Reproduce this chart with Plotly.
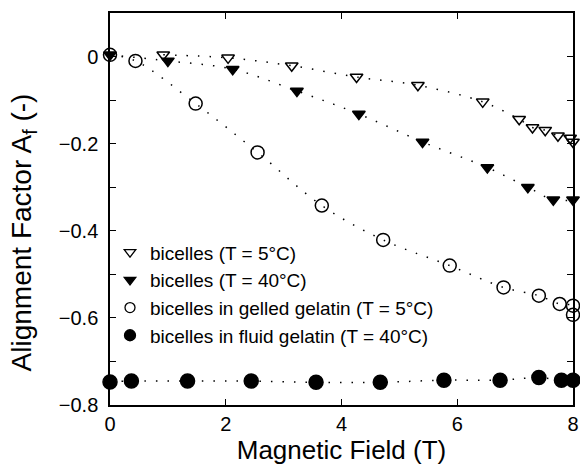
import plotly.graph_objects as go

# ---- data ----
tri_open_x = [0.92, 2.04, 3.14, 4.26, 5.32, 6.44, 7.07, 7.30, 7.52, 7.74, 7.95, 8.00]
tri_open_y = [0.004, -0.003, -0.021, -0.047, -0.066, -0.104, -0.144, -0.163, -0.169, -0.182, -0.187, -0.196]

tri_fill_x = [0.0, 1.00, 2.12, 3.23, 4.30, 5.40, 6.52, 7.22, 7.66, 8.00]
tri_fill_y = [0.004, -0.010, -0.029, -0.079, -0.132, -0.196, -0.255, -0.300, -0.329, -0.329]

circ_open_x = [0.0, 0.44, 1.48, 2.55, 3.66, 4.72, 5.87, 6.80, 7.41, 7.77, 8.00, 8.00]
circ_open_y = [0.004, -0.010, -0.108, -0.220, -0.342, -0.421, -0.480, -0.530, -0.549, -0.568, -0.572, -0.593]

circ_fill_x = [0.0, 0.37, 1.34, 2.44, 3.56, 4.67, 5.77, 6.74, 7.41, 7.80, 8.00]
circ_fill_y = [-0.747, -0.745, -0.745, -0.745, -0.748, -0.748, -0.743, -0.743, -0.737, -0.743, -0.743]

series_names = [
    "bicelles (T = 5°C)",
    "bicelles (T = 40°C)",
    "bicelles in gelled gelatin (T = 5°C)",
    "bicelles in fluid gelatin (T = 40°C)",
]

x_ticks = [0, 2, 4, 6, 8]
y_ticks = [0, -0.2, -0.4, -0.6, -0.8]
y_tick_labels = ["0", "\u22120.2", "\u22120.4", "\u22120.6", "\u22120.8"]

x_title = "Magnetic Field (T)"
y_title = "Alignment Factor A<sub>f</sub> (-)"

FONT = "Arial, 'Liberation Sans', Helvetica, sans-serif"

fig = go.Figure()

series = [
    (tri_open_x, tri_open_y, "triangle-down-open", 11, 10),
    (tri_fill_x, tri_fill_y, "triangle-down", 11, 10),
    (circ_open_x, circ_open_y, "circle-open", 13, 10),
    (circ_fill_x, circ_fill_y, "circle", 14, 11),
]

for (xs, ys, sym, size, lsize), name in zip(series, series_names):
    # dotted guide line through the points
    fig.add_trace(go.Scatter(
        x=xs, y=ys, mode="lines", showlegend=False, hoverinfo="skip",
        line=dict(color="black", width=1.5, dash="1.5px,10px", shape="spline", smoothing=1.0),
        cliponaxis=False,
    ))
    # markers
    fig.add_trace(go.Scatter(
        x=xs, y=ys, mode="markers", showlegend=False, name=name,
        marker=dict(symbol=sym, size=size, color="black",
                    line=dict(color="black", width=1.5)),
        cliponaxis=False,
    ))

# legend entries (smaller symbols as in reference)
for (xs, ys, sym, size, lsize), name in zip(series, series_names):
    fig.add_trace(go.Scatter(
        x=[None], y=[None], mode="markers", name=name, showlegend=True,
        marker=dict(symbol=sym, size=lsize, color="black",
                    line=dict(color="black", width=1.3)),
    ))

fig.update_layout(
    width=580, height=466,
    margin=dict(l=110, r=7, t=13, b=61),
    paper_bgcolor="white", plot_bgcolor="white",
    font=dict(family=FONT, color="black", size=20),
    showlegend=True,
    legend=dict(
        x=0.0, y=0.438, xanchor="left", yanchor="top",
        bgcolor="rgba(0,0,0,0)", borderwidth=0,
        font=dict(family=FONT, size=19, color="black"),
        itemwidth=30, tracegroupgap=0,
    ),
    xaxis=dict(
        range=[0, 8], tickvals=x_ticks, ticktext=[str(v) for v in x_ticks],
        ticks="inside", ticklen=6, tickwidth=1.2, tickcolor="black",
        showline=True, linecolor="black", linewidth=1.5, mirror="ticks",
        showgrid=False, zeroline=False, automargin=False,
        tickfont=dict(size=20),
        title=dict(text=x_title, font=dict(size=26), standoff=5),
    ),
    yaxis=dict(
        range=[-0.8, 0.1], tickvals=y_ticks, ticktext=y_tick_labels,
        ticks="inside", ticklen=6, tickwidth=1.2, tickcolor="black",
        minor=dict(dtick=0.1, tick0=0, ticks="inside", ticklen=6, tickwidth=1.2, tickcolor="black"),
        showline=True, linecolor="black", linewidth=1.5, mirror="ticks",
        showgrid=False, zeroline=False, automargin=False,
        tickfont=dict(size=20), ticklabelstandoff=6,
    ),
    annotations=[dict(
        text=y_title, textangle=-90, showarrow=False,
        xref="paper", yref="paper", x=-0.186, y=0.44,
        xanchor="center", yanchor="middle",
        font=dict(family=FONT, size=28, color="black"),
    )],
)

fig.write_html("out.html", config={"displayModeBar": False},
               post_script="document.body.style.margin='0';")
